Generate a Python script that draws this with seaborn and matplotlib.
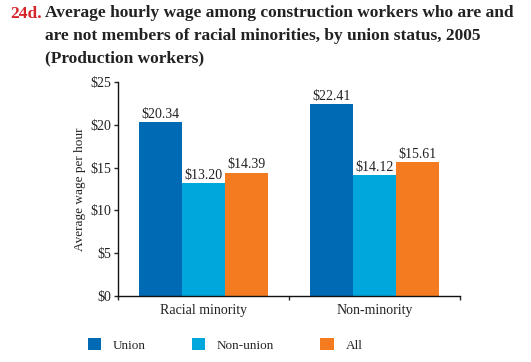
import matplotlib
matplotlib.use("Agg")
import matplotlib.pyplot as plt
import seaborn as sns
import pandas as pd
from matplotlib.patches import Patch
from matplotlib.ticker import FixedLocator

groups = ["Racial minority", "Non-minority"]
statuses = ["Union", "Non-union", "All"]
union = [20.34, 22.41]
nonunion = [13.20, 14.12]
all_w = [14.39, 15.61]
yticks = [0, 5, 10, 15, 20, 25]
colors = ["#006AB5", "#00A7DD", "#F47B20"]

rows = []
for i, g in enumerate(groups):
    for s, vals in zip(statuses, [union, nonunion, all_w]):
        rows.append({"group": g, "status": s, "wage": vals[i]})
df = pd.DataFrame(rows)

sns.set_style("white")
plt.rcParams["font.family"] = ["Liberation Serif", "DejaVu Serif"]

fig = plt.figure(figsize=(5.31, 3.62), dpi=100)
ax = fig.add_axes([118/531, 1-296/362, (460-118)/531, (296-82)/362])

sns.barplot(data=df, x="group", y="wage", hue="status", order=groups,
            hue_order=statuses, palette=colors, width=0.75, saturation=1,
            errorbar=None, ax=ax, legend=False, linewidth=0)

for cont in ax.containers:
    ax.bar_label(cont, labels=[f"${v:.2f}" for v in cont.datavalues],
                 padding=1, fontsize=10, color="#222222")

ax.set_xlim(-0.5, 1.5)
ax.set_ylim(0, 25)
ax.set_yticks(yticks)
ax.set_yticklabels([f"${v}" for v in yticks], fontsize=10, color="#222222")
ax.set_xticks([0, 1])
ax.set_xticklabels(groups, fontsize=10, color="#222222")
ax.xaxis.set_minor_locator(FixedLocator([-0.5, 0.5, 1.5]))
ax.tick_params(axis="x", which="major", length=0, pad=6)
ax.tick_params(axis="x", which="minor", length=3, direction="out", width=1, bottom=True)
ax.tick_params(axis="y", length=3, direction="out", width=1, left=True, pad=2)
ax.set_xlabel("")
ax.set_ylabel("Average wage per hour", fontsize=9.5, color="#222222", labelpad=3)
for sp in ["top", "right"]:
    ax.spines[sp].set_visible(False)
for sp in ["left", "bottom"]:
    ax.spines[sp].set_color("#111111")
    ax.spines[sp].set_linewidth(1)

handles = [Patch(facecolor=c, edgecolor="none", label=s) for c, s in zip(colors, statuses)]
fig.legend(handles=handles, loc="center", bbox_to_anchor=(225/531, 1-345/362), ncol=3,
           frameon=False, handlelength=1.0, handleheight=1.0, handletextpad=0.9,
           columnspacing=3.5, fontsize=9.5)

fig.text(10/531, 1-14/362, "24d.", color="#D7262B", fontsize=12.5, fontweight="bold",
         va="center", ha="left")
title = ("Average hourly wage among construction workers who are and\n"
         "are not members of racial minorities, by union status, 2005\n"
         "(Production workers)")
fig.text(45/531, 1-5/362, title, color="#222222", fontsize=12.5, fontweight="bold",
         va="top", ha="left", linespacing=1.55)

fig.savefig("out.png", dpi=100)
